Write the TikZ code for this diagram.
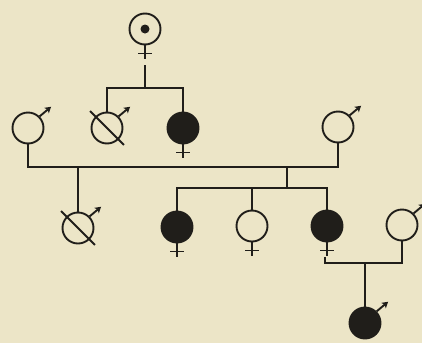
\documentclass[tikz,border=0pt]{standalone}
\usetikzlibrary{arrows.meta,calc}
\definecolor{paper}{RGB}{236,229,199}
\definecolor{ink}{RGB}{32,30,26}
\begin{document}
\begin{tikzpicture}[x=1pt,y=-1pt,
  ln/.style={line width=1.9pt, draw=ink},
  ind/.style={circle, ln, minimum size=31pt, inner sep=0pt},
  aff/.style={ind, fill=ink},
  ]
\fill[paper] (0,0) rectangle (422,343);
\useasboundingbox (0,0) rectangle (422,343);
% individuals
\node[ind] (g1) at (145,29) {};
\node[ind] (s1) at (107,128) {};
\node[aff] (s2) at (183,128) {};
\node[ind] (h1) at (28,128) {};
\node[ind] (h2) at (338,127) {};
\node[ind] (c1) at (78,228) {};
\node[aff] (c2) at (177,227) {};
\node[ind] (c3) at (252,226) {};
\node[aff] (c4) at (327,226) {};
\node[ind] (w) at (402,225) {};
\node[aff] (gc) at (365,323) {};
% dot in top female
\fill[ink] (g1) circle (4.5);
% female crosses
\foreach \n in {g1,s2,c2,c3,c4}{
  \draw[ln] (\n.south) -- ++(0,14);
  \draw[ln] ([shift={(-7,8)}]\n.south) -- ++(14,0);
}
% male arrows
\foreach \n in {s1,h1,h2,c1,w,gc}{
  \draw[ln,-{Stealth[length=6pt,width=7pt,inset=1.5pt]}] (\n.45) -- ++(-40:15);
}
% slashes for s1, c1
\foreach \n in {s1,c1}{
  \draw[ln] ($(\n)+(-135:24)$) -- ($(\n)+(45:24)$);
}
% lines
\coordinate (g1t) at (145,65);
\coordinate (sib1) at (145,88);
\draw[ln] (g1t) -- (sib1);
\draw[ln] (s1.north) |- (sib1) -| (s2.north);
\coordinate (mar) at (78,167);
\draw[ln] (h1.south) |- (mar) -| (h2.south);
\draw[ln] (mar) -- (c1.north);
\coordinate (m2) at (287,167);
\coordinate (sib2) at (287,188);
\draw[ln] (m2) -- (sib2);
\draw[ln] (c2.north) |- (sib2) -| (c4.north);
\draw[ln] (sib2 -| c3.north) -- (c3.north);
\coordinate (wt) at (325,257);
\coordinate (mar2) at (365,263);
\draw[ln] (wt) |- (mar2) -| (w.south);
\draw[ln] (mar2) -- (gc.north);
\end{tikzpicture}
\end{document}
